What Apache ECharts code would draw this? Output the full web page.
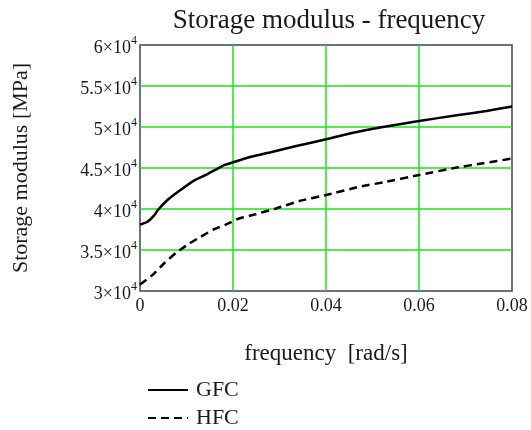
<!DOCTYPE html>
<html>
<head>
<meta charset="utf-8">
<script src="https://cdn.jsdelivr.net/npm/echarts@6/dist/echarts.min.js"></script>
<style>
  html, body { margin: 0; padding: 0; background: #fff; }
  #chart { width: 531px; height: 430px; }
</style>
</head>
<body>
<div id="chart"></div>
<script>
// Storage modulus vs. frequency for the two composites
const frequencyGFC = [0, 0.0016, 0.0031, 0.0038, 0.0059, 0.0084, 0.0117, 0.0145, 0.0181, 0.02, 0.0231, 0.0279, 0.0336, 0.04, 0.0458, 0.0516, 0.06, 0.0681, 0.0745, 0.08];
const modulusGFC   = [38100, 38450, 39250, 39850, 41100, 42200, 43500, 44250, 45350, 45700, 46250, 46880, 47680, 48500, 49300, 49950, 50730, 51430, 51950, 52500];

const frequencyHFC = [0, 0.0027, 0.0052, 0.0079, 0.0107, 0.0131, 0.0158, 0.0186, 0.021, 0.0242, 0.0289, 0.0343, 0.04, 0.0473, 0.0523, 0.06, 0.0681, 0.0738, 0.08];
const modulusHFC   = [30800, 31950, 33380, 34720, 35820, 36630, 37500, 38130, 38780, 39270, 40000, 40980, 41700, 42730, 43250, 44150, 45050, 45580, 46150];

const yTicks = [30000, 35000, 40000, 45000, 50000, 55000, 60000];
const xTicks = [0, 0.02, 0.04, 0.06, 0.08];
const seriesNames = ['GFC', 'HFC'];

const serif = '"Liberation Serif", "Times New Roman", serif';
const ink = '#1a1a1a';
const gridGreen = '#19e619';

const pairs = (xs, ys) => xs.map((x, i) => [x, ys[i]]);

const chart = echarts.init(document.getElementById('chart'), null, { renderer: 'canvas' });

chart.setOption({
  animation: false,
  backgroundColor: '#fff',
  title: {
    text: 'Storage modulus - frequency',
    left: 324,
    textAlign: 'center',
    top: 2,
    textStyle: { fontFamily: serif, fontSize: 27, fontWeight: 'normal', color: ink }
  },
  grid: {
    left: 140, right: 19, top: 45, bottom: 139,
    show: true, borderColor: '#444', borderWidth: 1.5, backgroundColor: 'transparent'
  },
  legend: {
    data: seriesNames,
    orient: 'vertical',
    left: 142,
    top: 374,
    height: 60,
    itemWidth: 40,
    itemHeight: 14,
    itemGap: 6,
    itemStyle: { opacity: 0 },
    textStyle: { fontFamily: serif, fontSize: 22, color: ink, padding: [0, 0, 0, 3] }
  },
  xAxis: {
    type: 'value',
    min: xTicks[0],
    max: xTicks[xTicks.length - 1],
    interval: 0.02,
    name: 'frequency  [rad/s]',
    nameLocation: 'middle',
    nameGap: 51,
    nameTextStyle: { fontFamily: serif, fontSize: 23, color: ink },
    axisLine: { show: false },
    axisTick: { show: false },
    axisLabel: {
      margin: 6,
      fontFamily: serif, fontSize: 18, color: ink,
      formatter: v => (v === 0 ? '0' : v.toFixed(2))
    },
    splitLine: { show: true, showMinLine: false, showMaxLine: false, lineStyle: { color: gridGreen, width: 1.5 } }
  },
  yAxis: {
    type: 'value',
    min: yTicks[0],
    max: yTicks[yTicks.length - 1],
    interval: 5000,
    name: 'Storage modulus [MPa]',
    nameLocation: 'middle',
    nameGap: 108,
    nameTextStyle: { fontFamily: serif, fontSize: 22, color: ink },
    axisLine: { show: false },
    axisTick: { show: false },
    axisLabel: {
      margin: 3,
      formatter: v => '{b|' + (v / 10000) + '×10}{s|4}',
      rich: {
        b: { fontFamily: serif, fontSize: 18, color: ink, lineHeight: 20, padding: [6, 0, 0, 0] },
        s: { fontFamily: serif, fontSize: 12, color: ink, verticalAlign: 'top', lineHeight: 12 }
      }
    },
    splitLine: { show: true, showMinLine: false, showMaxLine: false, lineStyle: { color: gridGreen, width: 1.5 } }
  },
  series: [
    {
      name: seriesNames[0],
      type: 'line',
      data: pairs(frequencyGFC, modulusGFC),
      symbol: 'none',
      smooth: 0.15,
      lineStyle: { color: '#000', width: 2.5 },
      itemStyle: { color: '#000' }
    },
    {
      name: seriesNames[1],
      type: 'line',
      data: pairs(frequencyHFC, modulusHFC),
      symbol: 'none',
      smooth: 0.15,
      lineStyle: { color: '#000', width: 2.5, type: [8, 5] },
      itemStyle: { color: '#000' }
    }
  ]
});
</script>
</body>
</html>
